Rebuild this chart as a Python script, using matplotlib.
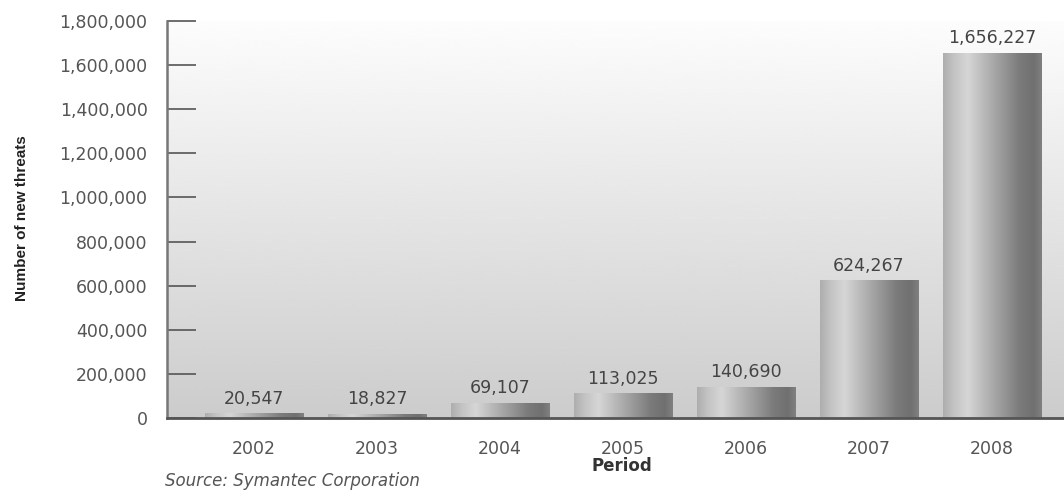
import numpy as np
import matplotlib
matplotlib.use("Agg")
import matplotlib.pyplot as plt
from matplotlib.ticker import FuncFormatter, MultipleLocator

years = ["2002", "2003", "2004", "2005", "2006", "2007", "2008"]
threats = [20547, 18827, 69107, 113025, 140690, 624267, 1656227]
value_labels = ["20,547", "18,827", "69,107", "113,025", "140,690", "624,267", "1,656,227"]

fig = plt.figure(figsize=(10.64, 4.90), dpi=100)
ax = fig.add_axes([167/1064, 1-418/490, 1-167/1064, (418-21)/490])

x = np.arange(len(years))

# background vertical gradient
grad = np.linspace(0.99, 0.80, 256).reshape(-1, 1)
ax.imshow(grad, cmap="gray", vmin=0, vmax=1, aspect="auto",
          extent=[0, 1, 0, 1], transform=ax.transAxes, zorder=0,
          interpolation="bicubic", origin="upper")

bars = ax.bar(x, threats, width=0.8, color="none", edgecolor="none", zorder=2)

# cylindrical gradient for bars
pos = [0.0, 0.10, 0.25, 0.42, 0.60, 0.78, 0.92, 1.0]
val = [0.68, 0.76, 0.84, 0.72, 0.60, 0.48, 0.44, 0.50]
prof = np.interp(np.linspace(0, 1, 200), pos, val).reshape(1, -1)
for b in bars:
    x0, y0 = b.get_x(), b.get_y()
    w, h = b.get_width(), b.get_height()
    im = ax.imshow(prof, cmap="gray", vmin=0, vmax=1, aspect="auto",
                   extent=[x0, x0 + w, y0, y0 + h], zorder=2,
                   interpolation="bicubic")
    im.set_clip_path(b)

for xi, v, lab in zip(x, threats, value_labels):
    ax.annotate(lab, (xi, v), xytext=(0, 4), textcoords="offset points",
                ha="center", va="bottom", fontsize=12.5, color="#444444", zorder=3)

ax.set_xlim(-0.707, len(years) - 1 + 0.585)
ax.set_ylim(0, 1800000)

ax.yaxis.set_major_locator(MultipleLocator(200000))
ax.yaxis.set_major_formatter(FuncFormatter(lambda v, p: f"{int(v):,}"))
ax.tick_params(axis="y", direction="in", length=21, width=1.2, color="#555555",
               pad=14, labelsize=12.5, labelcolor="#555555")
ax.set_xticks(x)
ax.set_xticklabels(years)
ax.tick_params(axis="x", length=0, pad=16, labelsize=12.5, labelcolor="#555555")

for s in ["top", "right"]:
    ax.spines[s].set_visible(False)
ax.spines["left"].set_color("#777777")
ax.spines["left"].set_linewidth(1.8)
ax.spines["bottom"].set_color("#555555")
ax.spines["bottom"].set_linewidth(2.0)
ax.spines["left"].set_zorder(4)
ax.spines["bottom"].set_zorder(4)

fig.text(622/1064, 1-466/490, "Period", ha="center", va="center",
         fontsize=12, fontweight="bold", color="#333333")
fig.text(22/1064, 1-218/490, "Number of new threats", rotation=90,
         ha="center", va="center", fontsize=11, fontweight="bold",
         color="#222222", family=["Liberation Sans", "DejaVu Sans"])
fig.text(165/1064, 1-481/490, "Source: Symantec Corporation", ha="left",
         va="center", fontsize=12, style="italic", color="#555555")

fig.savefig("out.png", dpi=100)
